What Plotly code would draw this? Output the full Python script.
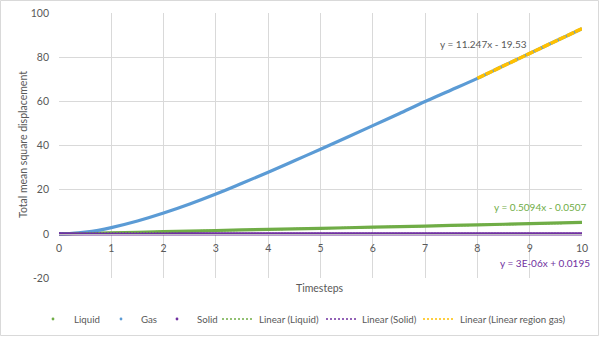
import plotly.graph_objects as go

# ---- data ----
gas_x = [0, 0.25, 0.5, 0.75, 1, 1.5, 2, 2.5, 3, 3.5, 4, 4.5, 5, 5.5, 6, 6.5, 7, 7.5, 8, 8.5, 9, 9.5, 10]
gas_y = [0, 0.2, 0.75, 1.6, 2.8, 5.8, 9.4, 13.5, 18.0, 22.9, 27.9, 33.1, 38.3, 43.6, 49.0, 54.4, 59.9, 65.1, 70.4, 76.1, 81.7, 87.3, 92.9]

liq_x = [0, 1, 2, 3, 4, 5, 6, 7, 8, 9, 10]
liq_y = [0, 0.45, 1.0, 1.5, 2.0, 2.5, 3.0, 3.5, 4.1, 4.6, 5.2]

sol_x = [0, 1, 2, 3, 4, 5, 6, 7, 8, 9, 10]
sol_y = [0.02, 0.02, 0.02, 0.02, 0.02, 0.02, 0.02, 0.02, 0.02, 0.02, 0.02]

series_names = ["Liquid", "Gas", "Solid"]

# trendlines: slope, intercept, x-range
trend_names = ["Linear (Liquid)", "Linear (Solid)", "Linear (Linear region gas)"]
trend_slopes = [0.5094, 3e-06, 11.247]
trend_intercepts = [-0.0507, 0.0195, -19.53]
trend_ranges = [(0, 10), (0, 10), (8, 10)]
trend_labels = ["y = 0.5094x - 0.0507", "y = 3E-06x + 0.0195", "y = 11.247x - 19.53"]

x_ticks = [0, 1, 2, 3, 4, 5, 6, 7, 8, 9, 10]
y_ticks = [-20, 0, 20, 40, 60, 80, 100]
y_ticktext = ["-20", "0", "20", "40", "60", "80", "100"]

GREEN = "#70AD47"
BLUE = "#5B9BD5"
PURPLE = "#7030A0"
ORANGE = "#FFC000"
TXT = "#595959"
FONT = "Lato"

# plot-area geometry in px (for paper conversions)
L, R, T, B = 59, 582, 13, 278
PW, PH = R - L, B - T


def px(xp):
    return (xp - L) / PW


def py(yp):
    return (B - yp) / PH


fig = go.Figure()

# data curves (dense points drawn as thick lines)
for x, y, c in [(liq_x, liq_y, GREEN), (gas_x, gas_y, BLUE), (sol_x, sol_y, PURPLE)]:
    fig.add_trace(go.Scatter(x=x, y=y, mode="lines", line=dict(color=c, width=3.2, shape="spline"),
                             showlegend=False, hoverinfo="skip"))

trend_colors = [GREEN, PURPLE, ORANGE]
trend_widths = [2, 2, 3.5]
trend_dash = ["2px,1px", "2px,1px", "8px,1px"]
for name, m, b, (a0, a1), c, w, d in zip(trend_names, trend_slopes, trend_intercepts, trend_ranges,
                                         trend_colors, trend_widths, trend_dash):
    xs = [a0, a1]
    ys = [m * v + b for v in xs]
    fig.add_trace(go.Scatter(x=xs, y=ys, mode="lines", name=name, showlegend=False,
                             line=dict(color=c, width=w, dash=d)))

# trendline equation labels
label_pos = [(9.2, 12.2), (9.29, -13.3), (8.11, 86)]
label_cols = [GREEN, PURPLE, TXT]
for txt, (lx, ly), c in zip(trend_labels, label_pos, label_cols):
    fig.add_annotation(x=lx, y=ly, text=txt, showarrow=False,
                       font=dict(family=FONT, size=10, color=c))

# axis titles
fig.add_annotation(xref="paper", yref="paper", x=px(320), y=py(288), text="Timesteps",
                   showarrow=False, yanchor="middle", font=dict(family=FONT, size=10.5, color=TXT))
fig.add_annotation(xref="paper", yref="paper", x=px(23), y=py(145), text="Total mean square displacement",
                   textangle=-90, showarrow=False, xanchor="center", yanchor="middle",
                   font=dict(family=FONT, size=10.5, color=TXT))

# manual legend (Excel-style, one row)
ly = py(319)
dot_px = [53, 121, 177]
text_px = [72, 139, 195]
for nm, dx, tx, c in zip(series_names, dot_px, text_px, [GREEN, BLUE, PURPLE]):
    fig.add_shape(type="circle", xref="paper", yref="paper",
                  x0=px(dx - 1.4), x1=px(dx + 1.4), y0=py(319 + 1.4), y1=py(319 - 1.4),
                  fillcolor=c, line=dict(width=0))
    fig.add_annotation(xref="paper", yref="paper", x=px(tx), y=ly, text=nm, showarrow=False,
                       xanchor="left", yanchor="middle", font=dict(family=FONT, size=9.7, color=TXT))
seg_px = [(222, 252), (326, 356), (423, 453)]
ttext_px = [257, 360, 458]
for nm, (s0, s1), tx, c in zip(trend_names, seg_px, ttext_px, trend_colors):
    fig.add_shape(type="line", xref="paper", yref="paper", x0=px(s0), x1=px(s1), y0=ly, y1=ly,
                  line=dict(color=c, width=1.5, dash="2px,2px"))
    fig.add_annotation(xref="paper", yref="paper", x=px(tx), y=ly, text=nm, showarrow=False,
                       xanchor="left", yanchor="middle", font=dict(family=FONT, size=9.7, color=TXT))

# chart border
fig.add_shape(type="rect", xref="paper", yref="paper",
              x0=px(0.5), x1=px(598.5), y0=py(335.5), y1=py(0.5),
              line=dict(color="#D9D9D9", width=1), fillcolor="rgba(0,0,0,0)", layer="below")

fig.update_layout(
    width=600, height=337,
    margin=dict(l=L, r=600 - R, t=T, b=337 - B, autoexpand=False),
    paper_bgcolor="white", plot_bgcolor="white",
    font=dict(family=FONT, size=10, color=TXT),
    xaxis=dict(range=[0, 10], tickvals=x_ticks, showgrid=True, gridcolor="#D9D9D9",
               zeroline=False, showline=True, linecolor="#BFBFBF", anchor="free",
               position=20 / 120, ticks="", ticklabelstandoff=5, tickfont=dict(size=10.5, color=TXT)),
    yaxis=dict(range=[-20, 100], tickvals=y_ticks, ticktext=y_ticktext, showgrid=True,
               gridcolor="#D9D9D9", zeroline=False, showline=False, ticks="",
               ticklabelstandoff=9, tickfont=dict(size=10.5, color=TXT)),
    showlegend=False,
)

fig.write_html("out.html")
